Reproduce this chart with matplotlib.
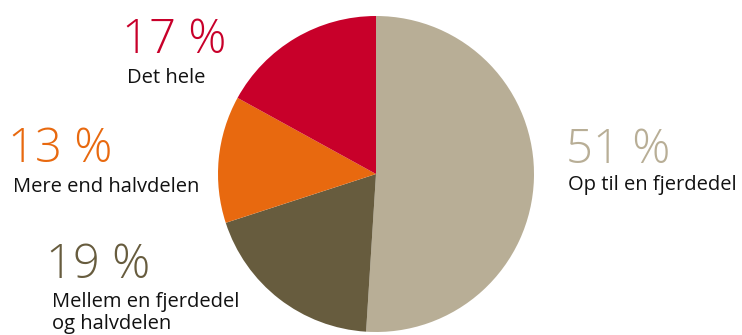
import matplotlib
matplotlib.use('Agg')
import matplotlib.pyplot as plt

# Data, clockwise from 12 o'clock
labels = ['Op til en fjerdedel', 'Mellem en fjerdedel\nog halvdelen', 'Mere end halvdelen', 'Det hele']
shares = [51, 19, 13, 17]
pct_text = ['51 %', '19 %', '13 %', '17 %']
colors = ['#b8ae96', '#675c3e', '#e8690f', '#c8002a']

# anchor points (pixel coords, top-left origin): percentage baseline, label last-line baseline
pct_pos = [(566, 163), (46, 278), (8, 162), (122, 53)]
lab_pos = [(568, 190), (52, 329), (13, 192), (127, 83)]

W, H = 742, 335
plt.rcParams['font.family'] = ['Open Sans', 'DejaVu Sans']

fig = plt.figure(figsize=(W / 100, H / 100), dpi=100)
ax = fig.add_axes([0, 0, 1, 1])

ax.pie(shares, colors=colors, startangle=90, counterclock=False,
       center=(376, H - 174), radius=158, frame=True,
       wedgeprops=dict(linewidth=0))
ax.set_xlim(0, W)
ax.set_ylim(0, H)
ax.set_aspect('equal')
ax.axis('off')

for txt, (x, y), c in zip(pct_text, pct_pos, colors):
    ax.text(x, H - y, txt, color=c, fontsize=34, fontweight='light',
            ha='left', va='baseline')

for txt, (x, y) in zip(labels, lab_pos):
    ax.text(x, H - y, txt, color='#111111', fontsize=14.5,
            ha='left', va='baseline', linespacing=1.15)

fig.savefig('out.png', dpi=100)
